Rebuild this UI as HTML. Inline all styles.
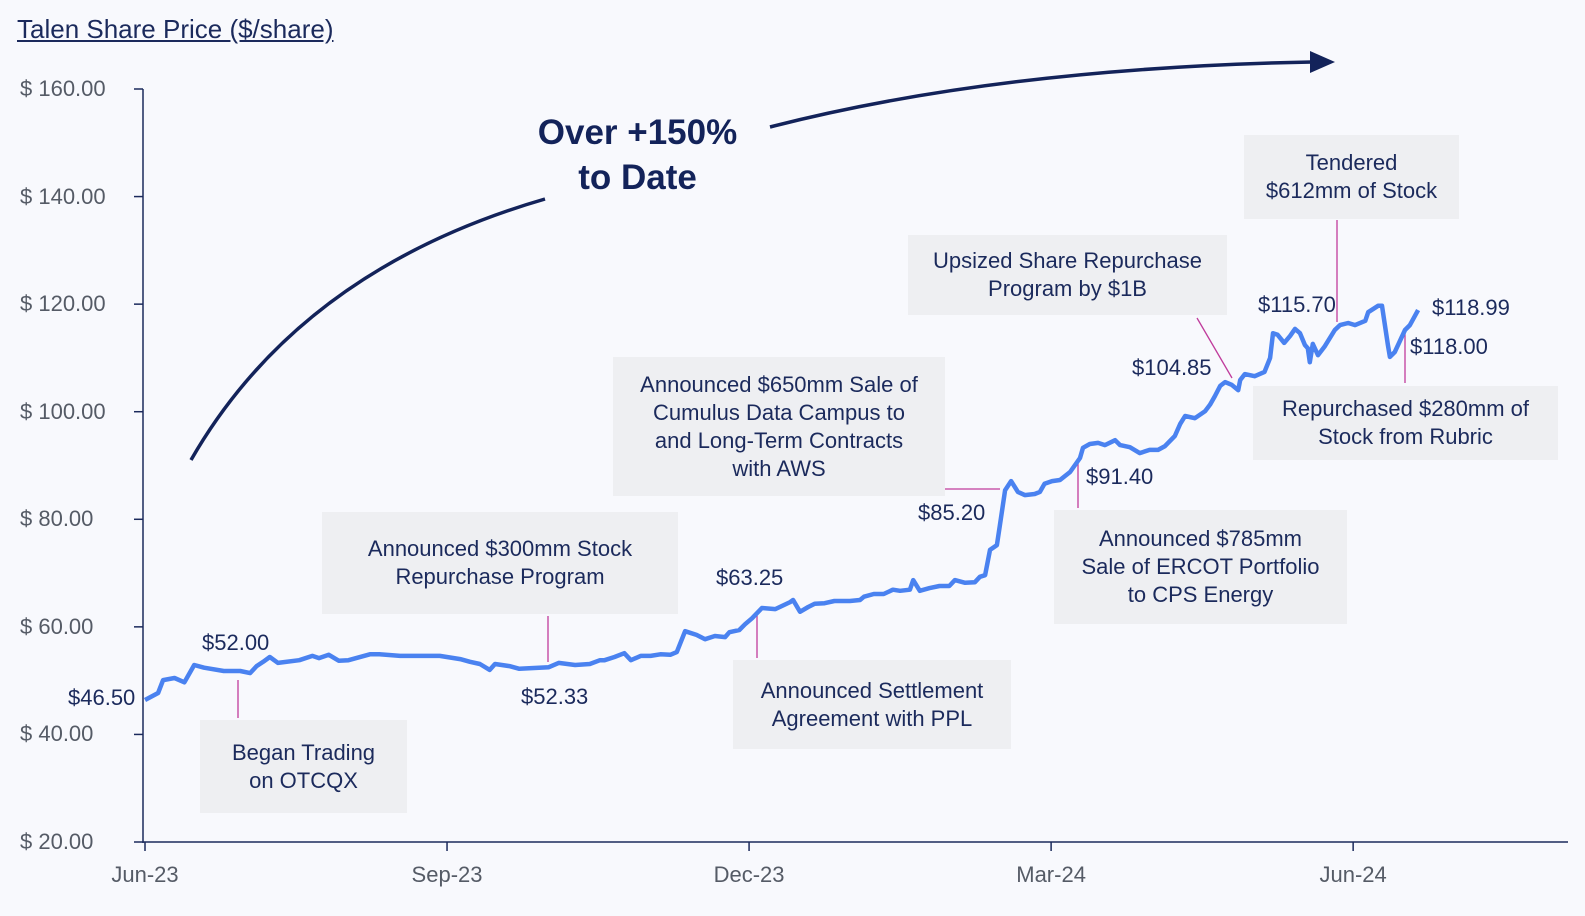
<!DOCTYPE html>
<html><head><meta charset="utf-8"><style>
body{margin:0;width:1585px;height:916px;background:#f8f9fd;font-family:"Liberation Sans",sans-serif;color:#1b2a5c;overflow:hidden;position:relative}
.box{position:absolute;background:#eeeff2;text-align:center;font-size:22px;line-height:28px;display:flex;flex-direction:column;justify-content:center;color:#1b2a5c}
.lbl{position:absolute;font-size:22px;color:#1b2a5c;white-space:nowrap}
.yt{position:absolute;font-size:22px;color:#555b66;left:20px;width:92px;text-align:left}
.xt{position:absolute;font-size:22px;color:#555b66;top:862px;width:100px;margin-left:-50px;text-align:center}
</style></head><body>
<div style="position:absolute;left:17px;top:14px;font-size:26px;text-decoration:underline;color:#1b2a5c">Talen Share Price ($/share)</div>
<svg id="chart" width="1585" height="916" style="position:absolute;left:0;top:0">
<defs><marker id="ah" markerWidth="10" markerHeight="10" refX="6" refY="5" orient="auto" markerUnits="userSpaceOnUse" viewBox="0 0 10 10"></marker></defs>
<path d="M191,460 Q300,270 545,199" fill="none" stroke="#13235a" stroke-width="3.5"/>
<path d="M770,127 Q1000,68 1312,62" fill="none" stroke="#13235a" stroke-width="3.5"/>
<polygon points="1335,62 1310,51 1310,73" fill="#13235a"/>
<g id="axes"></g>
<g id="leaders" stroke="#c03c9c" stroke-width="1.3">
<line x1="238" y1="680" x2="238" y2="718"/><line x1="548" y1="616" x2="548" y2="662"/>
<line x1="757" y1="612" x2="757" y2="658"/><line x1="945" y1="489" x2="1000" y2="489"/>
<line x1="1078" y1="462" x2="1078" y2="508"/><line x1="1197" y1="318" x2="1232" y2="378"/>
<line x1="1337" y1="220" x2="1337" y2="322"/><line x1="1405" y1="330" x2="1405" y2="383"/>
</g>
<path id="line" fill="none" stroke="#4a82f0" stroke-width="4.5" stroke-linejoin="round"/>
</svg>
<div style="position:absolute;left:520px;top:110px;width:235px;text-align:center;font-size:35px;font-weight:bold;line-height:45px;color:#13235a">Over +150%<br>to Date</div>
<div class="box" style="left:200px;top:720px;width:207px;height:93px">Began Trading<br>on OTCQX</div>
<div class="box" style="left:322px;top:512px;width:356px;height:102px">Announced $300mm Stock<br>Repurchase Program</div>
<div class="box" style="left:613px;top:357px;width:332px;height:139px">Announced $650mm Sale of<br>Cumulus Data Campus to<br>and Long-Term Contracts<br>with AWS</div>
<div class="box" style="left:733px;top:660px;width:278px;height:89px">Announced Settlement<br>Agreement with PPL</div>
<div class="box" style="left:908px;top:235px;width:319px;height:80px">Upsized Share Repurchase<br>Program by $1B</div>
<div class="box" style="left:1244px;top:135px;width:215px;height:84px">Tendered<br>$612mm of Stock</div>
<div class="box" style="left:1054px;top:510px;width:293px;height:114px">Announced $785mm<br>Sale of ERCOT Portfolio<br>to CPS Energy</div>
<div class="box" style="left:1253px;top:386px;width:305px;height:74px">Repurchased $280mm of<br>Stock from Rubric</div>
<div class="lbl" style="left:68px;top:685px">$46.50</div>
<div class="lbl" style="left:202px;top:630px">$52.00</div>
<div class="lbl" style="left:521px;top:684px">$52.33</div>
<div class="lbl" style="left:716px;top:565px">$63.25</div>
<div class="lbl" style="left:918px;top:500px">$85.20</div>
<div class="lbl" style="left:1086px;top:464px">$91.40</div>
<div class="lbl" style="left:1132px;top:355px">$104.85</div>
<div class="lbl" style="left:1258px;top:292px">$115.70</div>
<div class="lbl" style="left:1432px;top:295px">$118.99</div>
<div class="lbl" style="left:1410px;top:334px">$118.00</div>
<div id="labels"></div>
<script>
const yTicks=[160,140,120,100,80,60,40,20];
const xTickLabels=["Jun-23","Sep-23","Dec-23","Mar-24","Jun-24"];
const xTickDays=[0,92,184,276,368];
const days=[0,4,5.5,9,12,15,18,24,29,32,34,36,38,40.5,47,51,53,56,59,62,68.5,71.5,77.7,83.8,89.8,96,99,102,105,106.6,111,114,120,123,126,131,135.5,138.6,140,143,146,148,151,154,157,160,162,164.5,168,170.6,173.6,176.7,178,181,182.8,184.9,187.9,192,196.5,197.4,199.5,202,204,207,210,214.7,217.8,219,222,225,227.8,230,233,234,236,239,242,245,246.7,249.8,252.8,254.3,255.9,257.4,259.5,260.4,262,263.8,265.9,268,271,272.6,274,276.3,278.7,281.8,284.8,285.7,287.8,290.3,292.4,295.5,297,300,303,306,308.6,310.7,313.7,315.3,316.8,319.8,322.9,324.4,325.9,327.5,329,331,333,333.6,335,338,341,342.7,343.6,345,347,348.8,350.3,351.8,353.3,354.2,354.8,355.7,357.3,359.4,362.4,364,366.5,368.6,371.7,372.6,375.6,376.8,378.6,379.2,380.7,383.8,385.3,387.8];
const prices=[46.4,47.7,50.1,50.5,49.7,52.9,52.4,51.8,51.8,51.4,52.7,53.5,54.4,53.3,53.8,54.6,54.2,54.8,53.7,53.8,54.9,54.9,54.6,54.6,54.6,54.0,53.5,53.1,52.0,53.1,52.7,52.2,52.4,52.5,53.3,52.9,53.1,53.8,53.8,54.4,55.1,53.8,54.6,54.6,54.9,54.8,55.3,59.2,58.5,57.7,58.3,58.1,59.0,59.4,60.5,61.6,63.5,63.3,64.6,65.0,62.8,63.7,64.3,64.4,64.8,64.8,65.0,65.6,66.1,66.1,66.9,66.7,66.9,68.7,66.7,67.2,67.6,67.6,68.7,68.2,68.3,69.3,69.6,74.3,75.2,78.9,85.4,87.1,85.1,84.5,84.7,85.1,86.6,87.1,87.3,88.8,91.4,93.3,94.0,94.2,93.8,94.7,93.8,93.4,92.3,92.9,92.9,93.6,95.5,97.7,99.2,98.8,100.1,101.3,102.9,104.8,105.5,105.0,104.0,105.9,107.0,106.6,107.4,110.0,114.6,114.3,112.8,114.1,115.4,114.6,112.4,111.8,109.2,112.6,110.5,112.2,115.2,116.1,116.5,116.1,116.9,118.5,119.7,119.7,112.4,110.2,111.1,115.2,116.1,118.9];
const X=d=>145+d*3.283;
const Y=v=>89+(160-v)*753/140;
const NS="http://www.w3.org/2000/svg";
const ax=document.getElementById('axes');
function ln(x1,y1,x2,y2,name){const l=document.createElementNS(NS,'line');l.setAttribute('x1',x1);l.setAttribute('y1',y1);l.setAttribute('x2',x2);l.setAttribute('y2',y2);l.setAttribute('stroke','#1b2a5c');l.setAttribute('stroke-width','1.5');


ax.appendChild(l);}
ln(143,89,143,843,'y-axis-line');
ln(143,842,1568,842,'x-axis-line');
const lab=document.getElementById('labels');
yTicks.forEach(v=>{ln(134,Y(v),143,Y(v),'y-tick');const d=document.createElement('div');d.className='yt';d.style.top=(Y(v)-13)+'px';d.textContent='$ '+v.toFixed(2);


lab.appendChild(d);});
xTickLabels.forEach((t,i)=>{const x=X(xTickDays[i]);ln(x,842,x,851,'x-tick');const d=document.createElement('div');d.className='xt';d.style.left=x+'px';d.textContent=t;


lab.appendChild(d);});
document.getElementById('line').setAttribute('d',days.map((d,i)=>(i?'L':'M')+X(d).toFixed(1)+','+Y(prices[i]).toFixed(1)).join(' '));
</script>
</body></html>
